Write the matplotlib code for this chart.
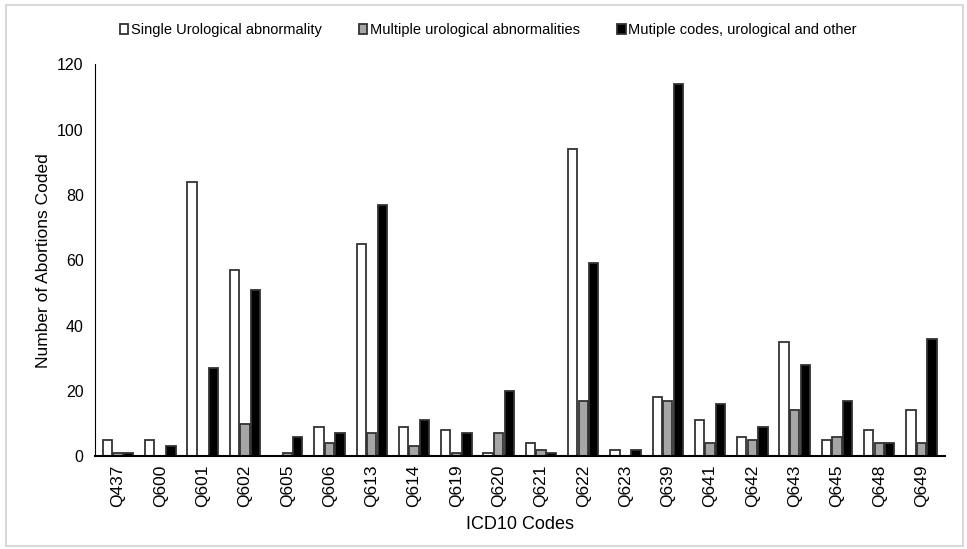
import numpy as np
import matplotlib.pyplot as plt
from matplotlib.patches import Rectangle

plt.rcParams['font.family'] = ['Liberation Sans', 'DejaVu Sans']

codes = ['Q437', 'Q600', 'Q601', 'Q602', 'Q605', 'Q606', 'Q613', 'Q614', 'Q619', 'Q620',
         'Q621', 'Q622', 'Q623', 'Q639', 'Q641', 'Q642', 'Q643', 'Q645', 'Q648', 'Q649']
single = [5, 5, 84, 57, 0, 9, 65, 9, 8, 1, 4, 94, 2, 18, 11, 6, 35, 5, 8, 14]
multiple = [1, 0, 0, 10, 1, 4, 7, 3, 1, 7, 2, 17, 0, 17, 4, 5, 14, 6, 4, 4]
mixed = [1, 3, 27, 51, 6, 7, 77, 11, 7, 20, 1, 59, 2, 114, 16, 9, 28, 17, 4, 36]

labels = ['Single Urological abnormality', 'Multiple urological abnormalities',
          'Mutiple codes, urological and other']

fig = plt.figure(figsize=(9.67, 5.49), dpi=100)
ax = fig.add_axes([0.098, 0.169, 0.879, 0.714])

# marco gris claro alrededor de la figura
fig.patches.append(Rectangle((0.006, 0.005), 0.99, 0.985, transform=fig.transFigure,
                             fill=False, edgecolor='#d9d9d9', linewidth=1.5))

x = np.arange(len(codes))
w = 0.22
ax.bar(x - 0.25, single, w, color='white', edgecolor='#333333', linewidth=1.3, label=labels[0])
ax.bar(x, multiple, w, color='#a6a6a6', edgecolor='#333333', linewidth=1.3, label=labels[1])
ax.bar(x + 0.25, mixed, w, color='black', edgecolor='#333333', linewidth=1.3, label=labels[2])

ax.set_xlim(-0.55, len(codes) - 0.45)
ax.set_ylim(0, 120)
ax.set_yticks(range(0, 121, 20))
ax.set_xticks(x)
ax.set_xticklabels(codes, rotation=90, fontsize=12.5)
ax.tick_params(axis='y', length=0, labelsize=11.5, pad=8)
ax.tick_params(axis='x', length=0, pad=6)

for s in ['top', 'right']:
    ax.spines[s].set_visible(False)
ax.spines['left'].set_color('black')
ax.spines['bottom'].set_color('black')
ax.spines['bottom'].set_linewidth(1.5)

ax.set_xlabel('ICD10 Codes', fontsize=13, labelpad=6)
ax.set_ylabel('Number of Abortions Coded', fontsize=12.5)

fig.legend(loc='center', bbox_to_anchor=(0.505, 0.945), ncol=3, frameon=False,
           fontsize=10.5, handlelength=0.6, handleheight=0.6, handletextpad=0.2,
           columnspacing=2.5)

fig.savefig('out.png', dpi=100)
